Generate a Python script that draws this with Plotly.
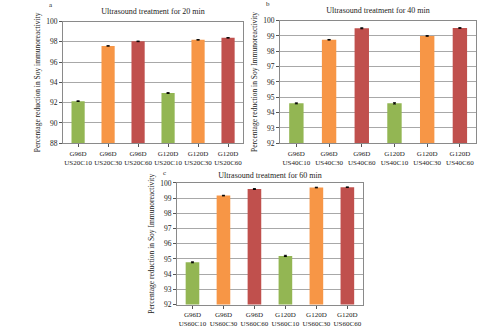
import plotly.graph_objects as go

cats_a = ["G96D<br>US20C10", "G96D<br>US20C30", "G96D<br>US20C60", "G120D<br>US20C10", "G120D<br>US20C30", "G120D<br>US20C60"]
cats_b = ["G96D<br>US40C10", "G96D<br>US40C30", "G96D<br>US40C60", "G120D<br>US40C10", "G120D<br>US40C30", "G120D<br>US40C60"]
cats_c = ["G96D<br>US60C10", "G96D<br>US60C30", "G96D<br>US60C60", "G120D<br>US60C10", "G120D<br>US60C30", "G120D<br>US60C60"]
vals_a = [92.15, 97.6, 98.05, 92.95, 98.2, 98.4]
vals_b = [94.6, 98.75, 99.5, 94.6, 99.0, 99.52]
vals_c = [94.78, 99.17, 99.6, 95.2, 99.7, 99.72]
errs = [0.03, 0.02, 0.03, 0.04, 0.02, 0.02]
colors = ["#93B653", "#F79646", "#C0504D", "#93B653", "#F79646", "#C0504D"]
titles = ["Ultrasound treatment for 20 min", "Ultrasound treatment for 40 min", "Ultrasound treatment for 60 min"]
ytitles = ["Percentage reduction in Soy immunoreactivity",
           "Percentage reduction in Soy Immunoreactivity",
           "Percentage reduction in Soy Immunoreactivity"]
letters = ["a", "b", "c"]

FONT = "Liberation Serif"
fig = go.Figure()
panels = [
    (cats_a, vals_a, "x", "y", [0.128, 0.493], [0.573, 0.946], [88, 100], 2, 0.012, 0.033),
    (cats_b, vals_b, "x2", "y2", [0.568, 0.966], [0.573, 0.949], [92, 100], 1, 0.010, 0.033),
    (cats_c, vals_c, "x3", "y3", [0.359, 0.736], [0.078, 0.451], [92, 100], 1, 0.002, 0.012),
]
layout = {}
for i, (cats, vals, xa, ya, xd, yd, yr, dt, toff, loff) in enumerate(panels):
    fig.add_trace(go.Bar(
        x=cats, y=vals, xaxis=xa, yaxis=ya, marker_color=colors,
        marker_line_width=0, width=0.44,
        error_y=dict(type="data", array=errs, color="black", thickness=1, width=1.5),
        showlegend=False))
    xk = "xaxis" if i == 0 else f"xaxis{i+1}"
    yk = "yaxis" if i == 0 else f"yaxis{i+1}"
    layout[xk] = dict(domain=xd, anchor=ya, showline=True, linecolor="#8a8a8a", linewidth=1,
                      mirror=True, ticks="outside", ticklen=3, tickcolor="#555", tickangle=0,
                      tickfont=dict(family=FONT, size=7, color="#222"), showgrid=False)
    layout[yk] = dict(domain=yd, anchor=xa, range=yr, dtick=dt, showline=True,
                      linecolor="#8a8a8a", linewidth=1, mirror=True,
                      ticks="outside", ticklen=3, tickcolor="#555",
                      showgrid=True, gridcolor="#a8a8a8", gridwidth=1,
                      tickfont=dict(family=FONT, size=7.5, color="#222"),
                      title=dict(text=ytitles[i], font=dict(family=FONT, size=7.5, color="#222"), standoff=4))
    fig.add_annotation(text=titles[i], x=(xd[0] + xd[1]) / 2, y=yd[1] + toff, xref="paper", yref="paper",
                       xanchor="center", yanchor="bottom", showarrow=False, width=180,
                       font=dict(family=FONT, size=8, color="#222"))
    fig.add_annotation(text=letters[i], x=xd[0] - 0.025, y=yd[1] + loff, xref="paper", yref="paper",
                       xanchor="center", yanchor="bottom", showarrow=False,
                       font=dict(family=FONT, size=7, color="#222"))

fig.update_layout(width=493, height=335, margin=dict(l=0, r=0, t=0, b=0),
                  paper_bgcolor="white", plot_bgcolor="white", **layout)
fig.write_html("out.html")
